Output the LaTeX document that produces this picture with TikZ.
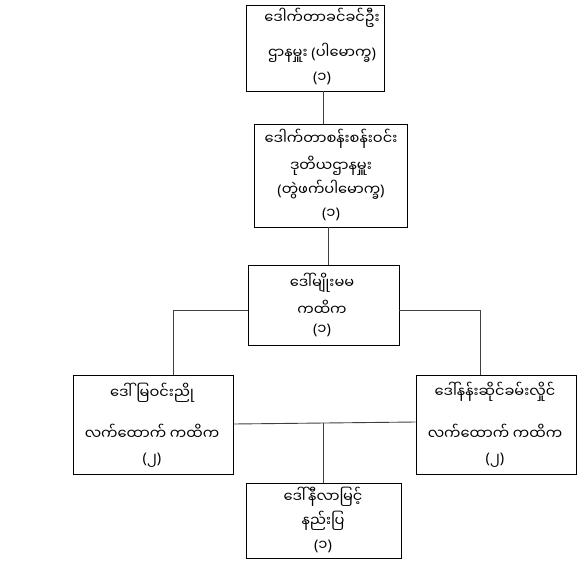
\documentclass[tikz,border=0pt]{standalone}
\usepackage{fontspec}
\newfontfamily\mm[Script=Myanmar]{Noto Sans Myanmar UI}
\newfontfamily\ns{Noto Sans}
\newcommand{\pr}[1]{{\ns(}#1{\ns)}}
\begin{document}
\begin{tikzpicture}[x=1pt,y=-1pt,
  box/.style={draw,line width=0.9pt,inner sep=0pt},
  txt/.style={font=\mm\fontsize{14.6}{16}\selectfont,inner sep=0pt,anchor=center},
  ln/.style={line width=0.9pt,black!75}]
\useasboundingbox (0,0) rectangle (586,562);
% boxes
\node[box,minimum width=138,minimum height=86] (b1) at (315,48) {};
\node[box,minimum width=153,minimum height=103] (b2) at (330.5,175.5) {};
\node[box,minimum width=151,minimum height=80] (b3) at (323.5,305) {};
\node[box,minimum width=160,minimum height=99] (b4) at (153,424.5) {};
\node[box,minimum width=160,minimum height=99] (b5) at (496,424.5) {};
\node[box,minimum width=155,minimum height=75] (b6) at (323.5,520.5) {};
% texts
\node[txt] (t11) at (322,18) {ဒေါက်တာခင်ခင်ဦး};
\node[txt] (t12) at (322,53) {ဌာနမှူး \pr{ပါမောက္ခ}};
\node[txt] (t13) at (322,78) {\pr{၁}};
\node[txt] (t21) at (331,139) {ဒေါက်တာစန်းစန်းဝင်း};
\node[txt] (t22) at (331,166) {ဒုတိယဌာနမှူး};
\node[txt] (t23) at (331,190) {\pr{တွဲဖက်ပါမောက္ခ}};
\node[txt] (t24) at (331,214) {\pr{၁}};
\node[txt] (t31) at (322,283) {ဒေါ်မျိုးမမ};
\node[txt] (t32) at (322,308) {ကထိက};
\node[txt] (t33) at (322,330) {\pr{၁}};
\node[txt] (t41) at (152,393) {ဒေါ်မြဝင်းညို};
\node[txt] (t42) at (152,432) {လက်ထောက် ကထိက};
\node[txt] (t43) at (152,460) {\pr{၂}};
\node[txt] (t51) at (495,392) {ဒေါ်နန်းဆိုင်ခမ်းလှိုင်};
\node[txt] (t52) at (495,432) {လက်ထောက် ကထိက};
\node[txt] (t53) at (495,460) {\pr{၂}};
\node[txt] (t61) at (323,497) {ဒေါ်နီလာမြင့်};
\node[txt] (t62) at (323,521) {နည်းပြ};
\node[txt] (t63) at (323,546) {\pr{၁}};
% connector points
\coordinate (c1) at (323,91);
\coordinate (c2) at (328,227);
\coordinate (c3l) at (173,310);
\coordinate (c3r) at (480,310);
\coordinate (c4) at (233,424);
\coordinate (c5) at (416,422);
\coordinate (cm) at (323,423);
% connectors
\draw[ln] (b1.south -| c1) -- (b2.north -| c1);
\draw[ln] (b2.south -| c2) -- (b3.north -| c2);
\draw[ln] (b3.west |- c3l) -- (c3l) -- (b4.north -| c3l);
\draw[ln] (b3.east |- c3r) -- (c3r) -- (b5.north -| c3r);
\draw[ln] (b4.east |- c4) -- (b5.west |- c5);
\draw[ln] (cm) -- (b6.north -| cm);
\end{tikzpicture}
\end{document}
